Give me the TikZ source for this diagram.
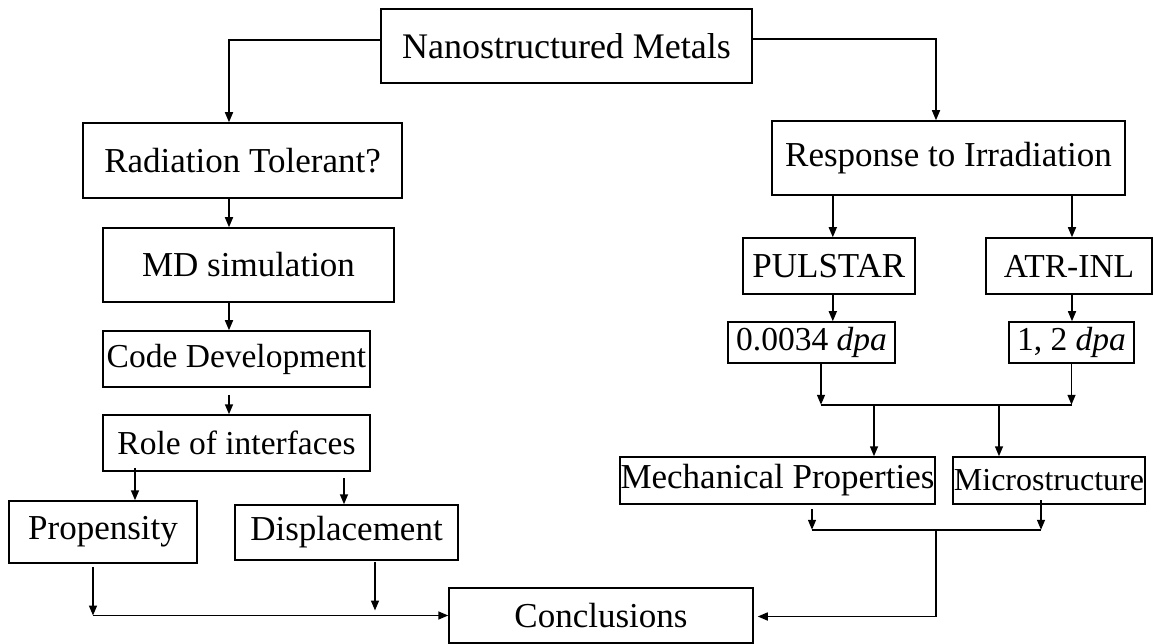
\documentclass[tikz,border=0pt]{standalone}
\usepackage{fontspec}
\setmainfont{Liberation Serif}
\usepackage{tikz}
\usetikzlibrary{arrows.meta,calc}

\tikzset{
  box/.style={draw, line width=1.5pt, inner sep=0pt, anchor=center, font=\fontsize{35}{41}\selectfont},
  arr/.style={-{Triangle[length=10pt,width=8pt]}},
}

\begin{document}
\begin{tikzpicture}[x=1pt, y=-1pt, line width=1.5pt, line cap=butt, line join=miter]

  %% ════ 方框（左列）════
  \node[box, minimum width=371pt, minimum height=74pt, font=\fontsize{36}{42}\selectfont] (nano) at (566.5,46.0) {Nanostructured Metals};
  \node[box, minimum width=319pt, minimum height=75pt] (rad)  at (242.5,160.5) {Radiation Tolerant?};
  \node[box, minimum width=291pt, minimum height=74pt] (md)   at (248.5,265.0) {MD simulation};
  \node[box, minimum width=267pt, minimum height=56pt, font=\fontsize{33.5}{39}\selectfont] (code) at (236.5,359.0) {Code Development};
  \node[box, minimum width=267pt, minimum height=56pt, font=\fontsize{33.5}{39}\selectfont] (role) at (236.5,443.0) {Role of interfaces};
  \node[box, minimum width=188pt, minimum height=62pt] (prop) at (103.0,532.0) {Propensity};
  \node[box, minimum width=223pt, minimum height=55pt] (disp) at (346.5,532.5) {Displacement};
  \node[box, minimum width=304pt, minimum height=55pt] (concl) at (601.0,615.5) {Conclusions};

  %% ════ 方框（右列）════
  \node[box, minimum width=353pt, minimum height=74pt] (resp) at (948.5,158.0) {Response to Irradiation};
  \node[box, minimum width=172pt, minimum height=56pt] (puls) at (828.8,266.0) {PULSTAR};
  \node[box, minimum width=166pt, minimum height=56pt, font=\fontsize{33.5}{39}\selectfont] (atr) at (1069.0,266.0) {ATR-INL};
  \node[box, minimum width=167pt, minimum height=41pt, font=\fontsize{33.5}{39}\selectfont] (dlow)  at (811.5,342.5) {0.0034 \textit{dpa}};
  \node[box, minimum width=125pt, minimum height=41pt, font=\fontsize{33.5}{39}\selectfont] (dhigh) at (1071.5,342.5) {1, 2 \textit{dpa}};
  \node[box, minimum width=315pt, minimum height=47pt] (mech)  at (777.5,480.5) {Mechanical Properties};
  \node[box, minimum width=192pt, minimum height=47pt, font=\fontsize{32}{38}\selectfont] (micro) at (1049.0,480.5) {Microstructure};

  %% ════ 分叉点 ════
  \coordinate (jl) at ($(rad.north)+(-13.5,0)$);
  \coordinate (jr) at ($(resp.north)+(-12.5,0)$);
  \coordinate (ja) at ($(dlow.south)+(9.5,41)$);
  \coordinate (jb) at (dhigh.south |- ja);
  \coordinate (jc) at ($(mech.south)+(34.5,25)$);
  \coordinate (jd) at ($(micro.south |- jc)+(-8,0)$);

  %% ════ 连线（左列）════
  \draw[arr] ($(nano.west)+(0,-6)$) -| (jl);
  \draw[arr] (jl |- rad.south) -- (jl |- md.north);
  \draw[arr] (jl |- md.south) -- (jl |- code.north);
  \draw[arr] ($(jl |- code.south)+(0,7)$) -- (jl |- role.north);
  \draw[arr] ($(role.south -| prop.north)+(32,-4)$) -- ($(prop.north)+(32,0)$);
  \draw[arr] ($(disp.north |- role.south)+(-2.5,6)$) -- ($(disp.north)+(-2.5,0)$);
  \draw[arr] ($(prop.south)+(-10,3)$) -- ($(prop.south |- concl.west)+(-10,0)$);
  \draw[arr] ($(prop.south |- concl.west)+(-10,0)$) -- (concl.west);
  \draw[arr] ($(disp.south)+(28.5,1)$) -- ($(disp.south |- concl.west)+(28.5,-5)$);

  %% ════ 连线（右列）════
  \draw[arr] ($(nano.east)+(0,-7)$) -| (jr);
  \draw[arr] ($(puls.north |- resp.south)+(4,0)$) -- ($(puls.north)+(4,0)$);
  \draw[arr] ($(atr.north |- resp.south)+(3,0)$) -- ($(atr.north)+(3,0)$);
  \draw[arr] ($(puls.south)+(4,0)$) -- ($(puls.south |- dlow.north)+(4,0)$);
  \draw[arr] ($(atr.south)+(3,0)$) -- ($(atr.south |- dhigh.north)+(3,0)$);
  \draw[arr] ($(dlow.south)+(9.5,0)$) -- (ja);
  \draw[arr] (dhigh.south) -- (jb);
  \draw (ja) -- (jb);
  \draw[arr] ($(mech.north |- ja)+(96.5,0)$) -- ($(mech.north)+(96.5,0)$);
  \draw[arr] ($(micro.north |- ja)+(-50,0)$) -- ($(micro.north)+(-50,0)$);
  \draw[arr] ($(mech.south)+(34.5,4)$) -- (jc);
  \draw[arr] ($(micro.south)+(-8,-5)$) -- (jd);
  \draw (jc) -- (jd);
  \draw[arr] (jr |- jc) -- ($(jr |- concl.east)+(0,1)$) -- ($(concl.east)+(4,1)$);

  % 钉死画布
  \pgfresetboundingbox
  \path[use as bounding box] (0,0) rectangle (1154,644);
\end{tikzpicture}
\end{document}
